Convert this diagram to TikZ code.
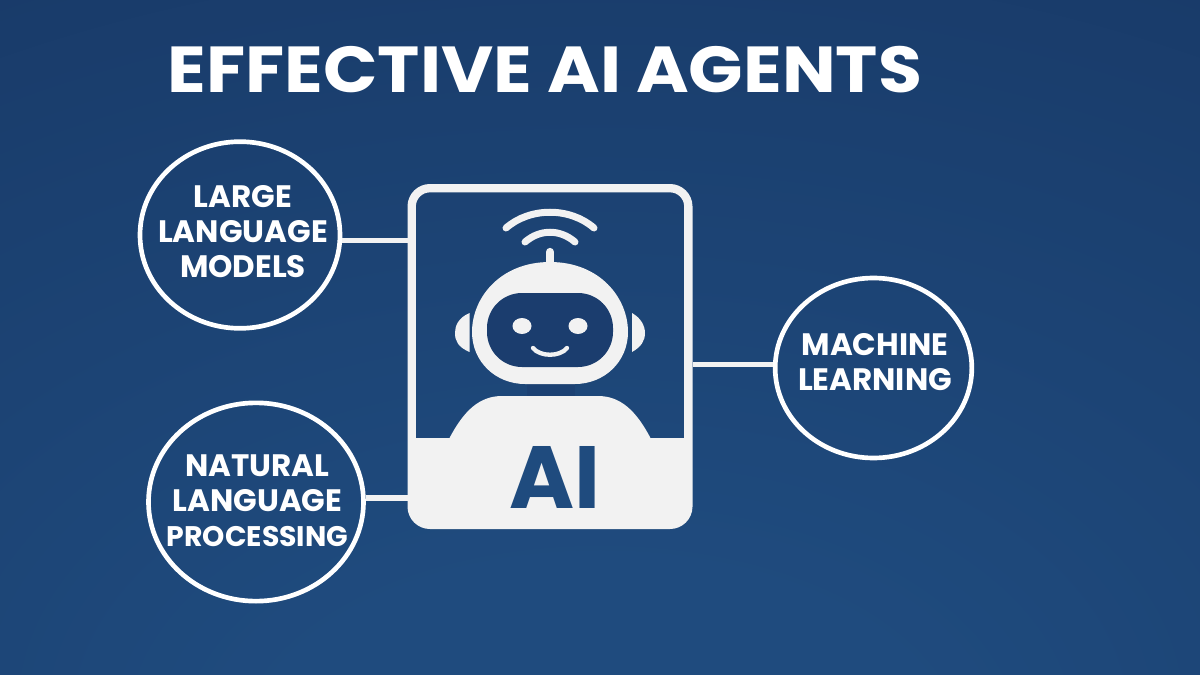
\documentclass[tikz,border=0pt]{standalone}
\usepackage{fontspec}
\usetikzlibrary{shapes.geometric}
\setsansfont{Poppins}
\definecolor{bgin}{HTML}{1F4B7E}
\definecolor{bgout}{HTML}{142E59}
\definecolor{visor}{HTML}{1B3D6E}
\definecolor{paper}{HTML}{F2F2F2}
\pgfdeclareradialshading{bgshade}{\pgfpoint{0bp}{-36bp}}{color(0bp)=(bgin); color(14bp)=(bgin); color(80bp)=(bgout); color(100bp)=(bgout)}
\tikzset{
  ring/.style={draw=white,line width=2.8pt,ellipse,inner sep=0pt},
  ringtext/.style={text=white,align=center,font=\sffamily\bfseries\fontsize{18.6}{21}\selectfont},
  link/.style={draw=paper,line width=3.3pt},
  wave/.style={draw=paper,line width=4.2pt,line cap=round}
}
\begin{document}
\begin{tikzpicture}[x=0.6pt,y=-0.6pt]
  \useasboundingbox (0,0) rectangle (1200,675);
  \shade[shading=bgshade] (0,0) rectangle (1200,675);
  \node[text=white,font=\sffamily\bfseries\fontsize{39}{44}\selectfont,xscale=1.1,transform shape] (title) at (545,70) {EFFECTIVE AI AGENTS};
  % card
  \node[draw=paper,line width=5pt,rounded corners=11pt,minimum width=166pt,minimum height=202pt,inner sep=0pt] (card) at (550,356.5) {};
  \fill[paper] (411.5,438) -- (688.5,438) -- (688.5,505) arc[start angle=0,end angle=90,radius=20] -- (431.5,525) arc[start angle=90,end angle=180,radius=20] -- cycle;
  \fill[visor!70!bgin] (527,380) rectangle (575,400);
  \fill[paper] (449,439) .. controls (464,410) and (480,396) .. (502,396) -- (598,396) .. controls (620,396) and (636,410) .. (651,439) -- cycle;
  % head
  \fill[paper] (550,262) .. controls (600,262) and (628,298) .. (628,332) .. controls (628,362) and (604,384) .. (575,384) -- (525,384) .. controls (496,384) and (472,362) .. (472,332) .. controls (472,298) and (500,262) .. (550,262) -- cycle;
  \fill[visor,rounded corners=21pt] (487,293) rectangle (613,367);
  \fill[paper] (522,326) circle[x radius=9.5,y radius=8];
  \fill[paper] (578,326) circle[x radius=9.5,y radius=8];
  \draw[paper,line width=2.6pt,line cap=round] (533,348) .. controls (540,357) and (560,357) .. (567,348);
  % ears
  \fill[paper] (469.5,313) .. controls (458,318) and (455,326) .. (455,333) .. controls (455,341) and (458,347) .. (469.5,352) -- cycle;
  \fill[paper] (632,313) .. controls (641,318) and (645,326) .. (645,333) .. controls (645,341) and (641,347) .. (632,352) -- cycle;
  % antenna
  \draw[paper,line width=5pt,line cap=round] (550,252) -- (550,264);
  \draw[wave] (525,242) .. controls (540,229) and (560,229) .. (575,242);
  \draw[wave] (506,228) .. controls (530,207) and (570,207) .. (594,228);
  \node[text=bgin,font=\sffamily\bfseries\fontsize{53}{60}\selectfont] (ailabel) at (555,477) {AI};
  % outer rings
  \node[ring,minimum width=120pt,minimum height=112pt] (llm) at (240,235) {};
  \node[ring,minimum width=129pt,minimum height=119pt] (nlp) at (256,502) {};
  \node[ring,minimum width=118pt,minimum height=108pt] (ml) at (873.5,368) {};
  \node[ringtext] (llmtext) at (243,232) {LARGE\\LANGUAGE\\MODELS};
  \node[ringtext] (nlptext) at (257.5,501) {NATURAL\\LANGUAGE\\{\fontsize{17}{21}\selectfont PROCESSING}};
  \node[ringtext] (mltext) at (875,362) {MACHINE\\LEARNING};
  \draw[link] (llm.-3) -- (llm.-3 -| card.west);
  \draw[link] (nlp.2) -- (nlp.2 -| card.west);
  \draw[link] (ml.178) -- (ml.178 -| card.east);
\end{tikzpicture}
\end{document}
